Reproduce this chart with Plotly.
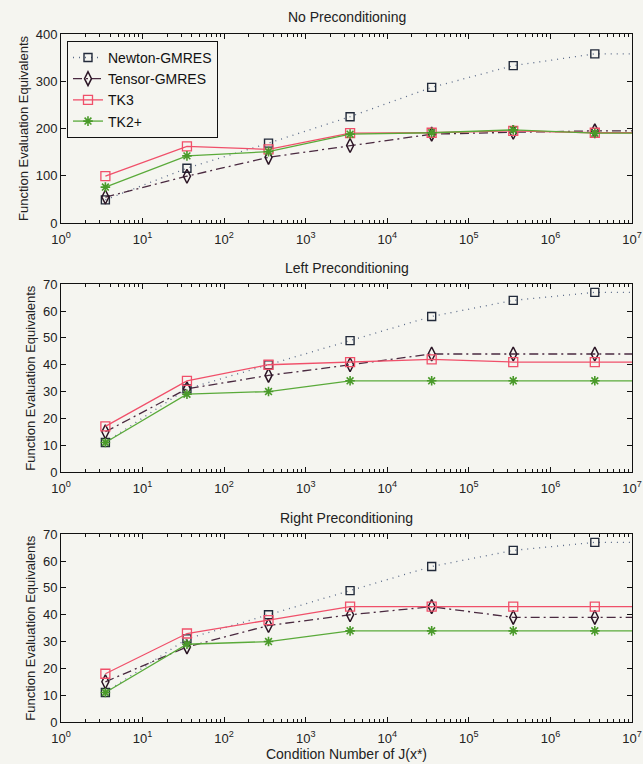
import plotly.graph_objects as go
from plotly.subplots import make_subplots

# condition numbers (last point lies beyond the axis range, line runs to edge)
cond = [3.5, 35, 350, 3500, 35000, 350000, 3500000, 35000000]

panel_titles = ["No Preconditioning", "Left Preconditioning", "Right Preconditioning"]
series_names = ["Newton-GMRES", "Tensor-GMRES", "TK3", "TK2+"]

# No preconditioning
none_newton = [49, 116, 169, 225, 287, 333, 358, 358]
none_tensor = [55, 99, 139, 164, 188, 192, 195, 195]
none_tk3 = [99, 162, 156, 190, 191, 195, 191, 191]
none_tk2 = [76, 142, 151, 188, 191, 197, 190, 190]

# Left preconditioning
left_newton = [11, 31, 40, 49, 58, 64, 67, 67]
left_tensor = [15, 31, 36, 40, 44, 44, 44, 44]
left_tk3 = [17, 34, 40, 41, 42, 41, 41, 41]
left_tk2 = [11, 29, 30, 34, 34, 34, 34, 34]

# Right preconditioning
right_newton = [11, 31, 40, 49, 58, 64, 67, 67]
right_tensor = [15, 28, 36, 40, 43, 39, 39, 39]
right_tk3 = [18, 33, 38, 43, 43, 43, 43, 43]
right_tk2 = [11, 29, 30, 34, 34, 34, 34, 34]

panels = [
    [none_newton, none_tensor, none_tk3, none_tk2],
    [left_newton, left_tensor, left_tk3, left_tk2],
    [right_newton, right_tensor, right_tk3, right_tk2],
]
y_ranges = [[0, 400], [0, 70], [0, 70]]
y_dticks = [100, 10, 10]

x_tickvals = [1, 10, 100, 1000, 1e4, 1e5, 1e6, 1e7]
x_ticktext = ["10<sup>%d</sup>" % i for i in range(8)]

styles = [
    dict(line=dict(color="#5a6a88", width=1.3, dash="1px,5px"),
         marker=dict(symbol="square-open", size=8, color="#222a3a", line=dict(width=1.4))),
    dict(line=dict(color="#4a2a40", width=1.3, dash="9px,4px,2px,4px"),
         marker=dict(symbol="diamond-tall-open", size=10, color="#2a1424", line=dict(width=1.5))),
    dict(line=dict(color="#f0506a", width=1.3, dash="solid"),
         marker=dict(symbol="square-open", size=9, color="#f0506a", line=dict(width=1.3))),
    dict(line=dict(color="#5aaa3a", width=1.3, dash="solid"),
         marker=dict(symbol="asterisk-open", size=8, color="#4a9a2a", line=dict(width=1.6, color="#4a9a2a"))),
]

BG = "#f5f5f0"
FONT = "Liberation Sans, Arial, sans-serif"

fig = make_subplots(rows=3, cols=1)
doms = [[0.7253, 1.0], [0.3634, 0.6362], [0.0, 0.2728]]
title_shift = [17, 16, 16]

for r, data in enumerate(panels):
    for s, vals in enumerate(data):
        fig.add_trace(go.Scatter(
            x=cond, y=vals, mode="lines+markers", name=series_names[s],
            showlegend=(r == 0), line=styles[s]["line"], marker=styles[s]["marker"],
        ), row=r + 1, col=1)

axis_common = dict(showline=True, linecolor="#111", linewidth=1, mirror="allticks",
                   ticks="inside", tickcolor="#111", showgrid=False, zeroline=False,
                   automargin=False,
                   tickfont=dict(size=13, color="#222", family=FONT))

for r in range(3):
    xa = "xaxis" if r == 0 else "xaxis%d" % (r + 1)
    ya = "yaxis" if r == 0 else "yaxis%d" % (r + 1)
    fig.layout[xa].update(type="log", range=[0, 7], tickvals=x_tickvals, ticktext=x_ticktext,
                          ticklen=5, domain=[0, 1], ticklabelstandoff=4,
                          minor=dict(ticks="inside", ticklen=3, tickcolor="#111",
                                     tickvals=[m * 10 ** e for e in range(7) for m in range(2, 10)],
                                     showgrid=False),
                          **axis_common)
    fig.layout[ya].update(range=y_ranges[r], dtick=y_dticks[r], ticklen=5, domain=doms[r],
                          title=dict(text="Function Evaluation Equivalents", standoff=4,
                                     font=dict(size=13, color="#222", family=FONT)),
                          **axis_common)
    fig.add_annotation(text=panel_titles[r], xref="paper", yref="paper", x=0.5, y=doms[r][1],
                       yanchor="middle", yshift=title_shift[r], showarrow=False,
                       font=dict(size=14, color="#222", family=FONT))

fig.update_xaxes(title=dict(text="Condition Number of J(x*)", standoff=3,
                            font=dict(size=14, color="#222", family=FONT)), row=3, col=1)

fig.update_layout(
    width=643, height=764,
    margin=dict(l=61, r=11, t=34, b=42, autoexpand=False),
    paper_bgcolor=BG, plot_bgcolor=BG,
    font=dict(family=FONT, size=13, color="#222"),
    legend=dict(x=0.0105, y=0.99, xanchor="left", yanchor="top", bgcolor=BG,
                bordercolor="#111", borderwidth=1, font=dict(size=14, color="#111"),
                tracegroupgap=0, itemwidth=30),
)

fig.write_html("out.html")
